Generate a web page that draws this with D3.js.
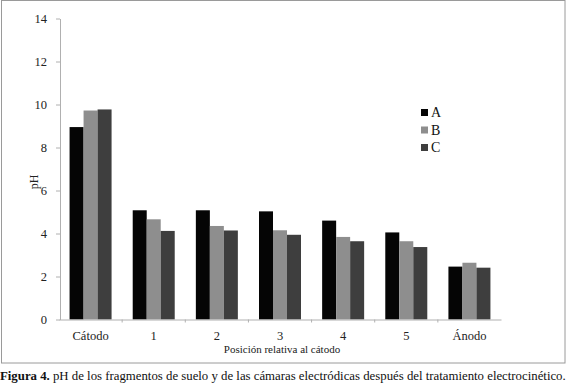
<!DOCTYPE html>
<html>
<head>
<meta charset="utf-8">
<script src="https://cdn.jsdelivr.net/npm/d3@7"></script>
<style>
  body { margin: 0; background: #fff; }
  svg { display: block; }
  svg text { font-family: "Liberation Serif", "DejaVu Serif", serif; }
</style>
</head>
<body>
<div id="chart"></div>
<script>
// categories along the x axis
var categories = ["Cátodo", "1", "2", "3", "4", "5", "Ánodo"];
var seriesNames = ["A", "B", "C"];
// pH values
var valuesA = [8.95, 5.08, 5.08, 5.03, 4.6, 4.05, 2.46];
var valuesB = [9.72, 4.66, 4.35, 4.15, 3.84, 3.64, 2.64];
var valuesC = [9.77, 4.12, 4.14, 3.94, 3.64, 3.37, 2.41];
var yTicks = [0, 2, 4, 6, 8, 10, 12, 14];
var seriesColors = ["#050505", "#8e8e8e", "#3e3e3e"];

var W = 566, H = 386;
var svg = d3.select("#chart").append("svg")
    .attr("width", W)
    .attr("height", H);

// outer frame of the figure
svg.append("rect")
    .attr("x", 1.5).attr("y", 0.5)
    .attr("width", 563.5).attr("height", 362.5)
    .attr("fill", "none")
    .attr("stroke", "#9a9a9a");

var x = d3.scaleBand().domain(categories).range([59, 501]).padding(0);
var inner = d3.scaleBand().domain(seriesNames)
    .range([x.bandwidth() / 2 - 21, x.bandwidth() / 2 + 21]).padding(0);
var y = d3.scaleLinear().domain([0, 14]).range([319.5, 18.5]);

var series = [valuesA, valuesB, valuesC];

// bars
var groups = svg.append("g").selectAll("g")
    .data(categories)
    .join("g")
    .attr("transform", function(d) { return "translate(" + x(d) + ",0)"; });

groups.selectAll("rect")
    .data(function(d, i) {
      return seriesNames.map(function(s, j) { return {s: s, v: series[j][i], j: j}; });
    })
    .join("rect")
    .attr("x", function(d) { return inner(d.s); })
    .attr("width", inner.bandwidth())
    .attr("y", function(d) { return y(d.v); })
    .attr("height", function(d) { return y(0) - y(d.v); })
    .attr("fill", function(d) { return seriesColors[d.j]; });

// y axis
var yAxis = svg.append("g")
    .attr("transform", "translate(60,0)")
    .call(d3.axisLeft(y).tickValues(yTicks).tickSizeInner(4).tickSizeOuter(0).tickPadding(9));
yAxis.select(".domain").attr("stroke", "#b0b0b0");
yAxis.selectAll(".tick line").attr("stroke", "#b0b0b0");
yAxis.selectAll("text").style("font-size", "12.5px").attr("fill", "#222");

// x axis
var xAxis = svg.append("g")
    .attr("transform", "translate(0," + y(0) + ")")
    .call(d3.axisBottom(x).tickSize(0).tickPadding(12));
xAxis.select(".domain").attr("stroke", "#b0b0b0");
xAxis.selectAll("text").style("font-size", "12.5px").attr("fill", "#222");
// small separators between categories
xAxis.selectAll(".sep")
    .data(categories.slice(1))
    .join("line")
    .attr("class", "sep")
    .attr("x1", function(d) { return x(d); })
    .attr("x2", function(d) { return x(d); })
    .attr("y1", 0).attr("y2", 3)
    .attr("stroke", "#b0b0b0");

// axis titles
svg.append("text")
    .attr("transform", "translate(38,182) rotate(-90)")
    .attr("text-anchor", "middle")
    .attr("font-size", 12)
    .attr("fill", "#222")
    .text("pH");

svg.append("text")
    .attr("x", 282).attr("y", 353)
    .attr("text-anchor", "middle")
    .attr("font-size", 11)
    .attr("fill", "#222")
    .text("Posición relativa al cátodo");

// legend
var legend = svg.append("g").attr("transform", "translate(421,106)");
var li = legend.selectAll("g")
    .data(seriesNames)
    .join("g")
    .attr("transform", function(d, i) { return "translate(0," + (i * 17.5) + ")"; });
li.append("rect")
    .attr("width", 7).attr("height", 7)
    .attr("y", 3)
    .attr("fill", function(d, i) { return seriesColors[i]; });
li.append("text")
    .attr("x", 10).attr("y", 11)
    .attr("font-size", 14)
    .attr("fill", "#111")
    .text(function(d) { return d; });

// caption
var cap = svg.append("text")
    .attr("x", 0).attr("y", 380)
    .attr("font-size", 12.8)
    .attr("fill", "#111");
cap.append("tspan").attr("font-weight", "bold").text("Figura 4.");
cap.append("tspan").text(" pH de los fragmentos de suelo y de las cámaras electródicas después del tratamiento electrocinético.");
</script>
</body>
</html>
